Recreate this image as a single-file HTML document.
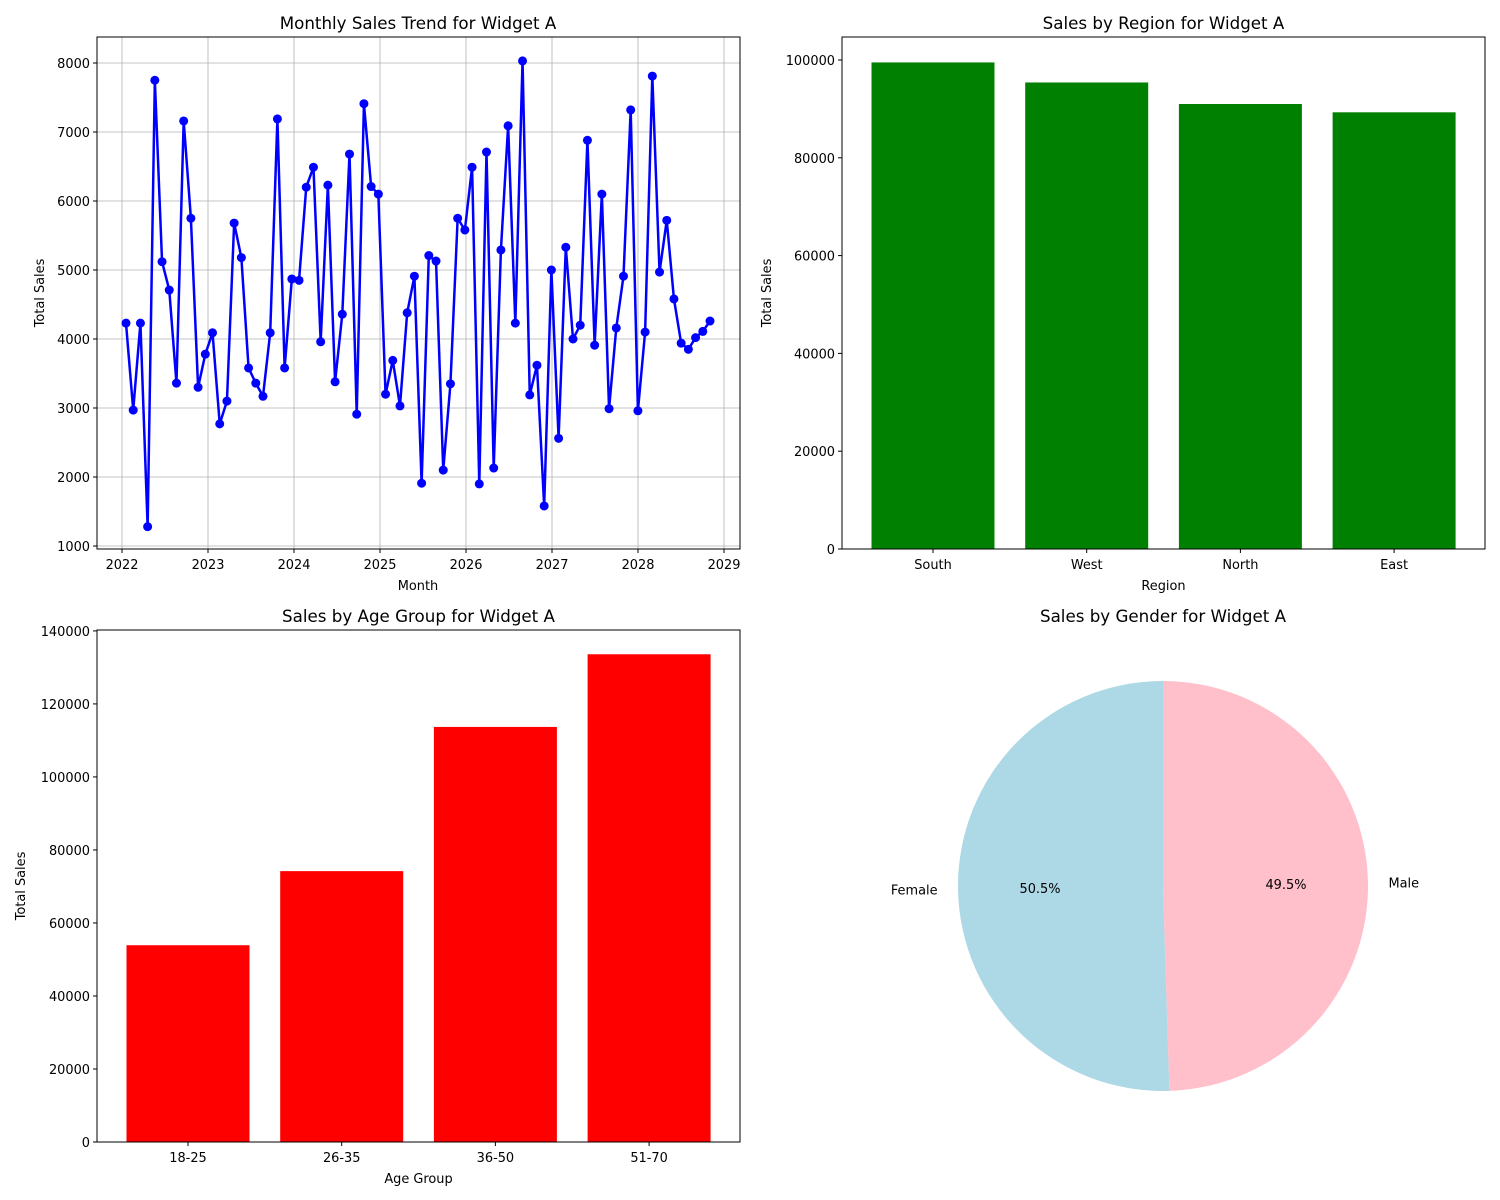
<!DOCTYPE html>
<html><head><meta charset="utf-8"><style>
body{margin:0;background:#fff}
svg{display:block;font-family:"DejaVu Sans","Liberation Sans",sans-serif}
</style></head><body>
<svg id="c" width="1500" height="1200" viewBox="0 0 1500 1200"></svg>
<script>
const monthlySales=[4230,2970,4230,1280,7750,5120,4710,3360,7160,5750,3300,3780,4090,2770,3100,5680,5180,3580,3360,3170,4090,7190,3580,4870,4850,6200,6490,3960,6230,3380,4360,6680,2910,7410,6210,6100,3200,3690,3030,4380,4910,1910,5210,5130,2100,3350,5750,5580,6490,1900,6710,2130,5290,7090,4230,8030,3190,3620,1580,5000,2560,5330,4000,4200,6880,3910,6100,2990,4160,4910,7320,2960,4100,7810,4970,5720,4580,3940,3850,4020,4110,4260];
const yearTicks=[2022,2023,2024,2025,2026,2027,2028,2029];
const salesTicks=[1000,2000,3000,4000,5000,6000,7000,8000];
const regions=["South","West","North","East"];
const regionSales=[99500,95400,91000,89300];
const regionTicks=[0,20000,40000,60000,80000,100000];
const ageGroups=["18-25","26-35","36-50","51-70"];
const ageSales=[53900,74200,113700,133600];
const ageTicks=[0,20000,40000,60000,80000,100000,120000,140000];
const genders=["Female","Male"];
const genderShares=[50.5,49.5];
const genderColors=["#add8e6","#ffc0cb"];

const TS=13.9, TT=16.7;
const svg=document.getElementById('c');const NS="http://www.w3.org/2000/svg";
function mk(t,a,p){const e=document.createElementNS(NS,t);for(const k in a)e.setAttribute(k,a[k]);(p||svg).appendChild(e);return e;}
function txt(x,y,s,size,anchor,p,rot){const e=mk('text',{x:x,y:y,'font-size':size,'text-anchor':anchor||'middle',fill:'#000'},p);if(rot)e.setAttribute('transform','rotate(-90 '+x+' '+y+')');e.textContent=s;return e;}
function frame(){const g=mk('g',{});return g;}
function box(g,x0,y0,x1,y1){mk('rect',{x:x0,y:y0,width:x1-x0,height:y1-y0,fill:'none',stroke:'#000','stroke-width':1},g);}
function yAxis(g,ticks,ys,x0,grid,x1){ticks.forEach(t=>{const y=ys(t);if(grid)mk('line',{x1:x0,x2:x1,y1:y,y2:y,stroke:'#b0b0b0','stroke-width':0.8},g);mk('line',{x1:x0-4,x2:x0,y1:y,y2:y,stroke:'#000'},g);const e=txt(x0-7,y+5,String(t),TS*0.93,'end',g);});}

(function(){const g=frame();
const X0=97,X1=740,Y0=37,Y1=549;
const xs=t=>122+(t-2022)*86;const ys=v=>546-(v-1000)*0.069;
yearTicks.forEach(t=>{const x=xs(t);mk('line',{x1:x,x2:x,y1:Y0,y2:Y1,stroke:'#b0b0b0','stroke-width':0.8},g);mk('line',{x1:x,x2:x,y1:Y1,y2:Y1+4,stroke:'#000'},g);const e=txt(x,Y1+20,String(t),TS*0.93,'middle',g);});
yAxis(g,salesTicks,ys,X0,true,X1);
const xi=i=>126+i*(584/81);
const pts=monthlySales.map((v,i)=>[xi(i),ys(v)]);
const pl=mk('polyline',{points:pts.map(p=>p.join(',')).join(' '),fill:'none',stroke:'#0000ff','stroke-width':2.5},g);

pts.forEach(p=>{const c=mk('circle',{cx:p[0],cy:p[1],r:4.5,fill:'#0000ff'},g);});
box(g,X0,Y0,X1,Y1);
txt(418,29,'Monthly Sales Trend for Widget A',TT,'middle',g);
txt(418,590,'Month',TS*0.93,'middle',g);
txt(44,293,'Total Sales',TS*0.93,'middle',g,true);
})();

function barChart(name,X0,Y0,X1,Y1,cats,vals,ticks,maxV,color,title,xt,c0,step,ytx){
const g=frame();
const ys=v=>Y1-v/maxV*(Y1-Y0);
yAxis(g,ticks,ys,X0,false);
cats.forEach((c,i)=>{const cx=c0+i*step;const r=mk('rect',{x:cx-61.5,y:ys(vals[i]),width:123,height:Y1-ys(vals[i]),fill:color},g);
mk('line',{x1:cx,x2:cx,y1:Y1,y2:Y1+4,stroke:'#000'},g);const e=txt(cx,Y1+20,c,TS*0.93,'middle',g);});
box(g,X0,Y0,X1,Y1);
txt((X0+X1)/2,Y0-8,title,TT,'middle',g);
txt((X0+X1)/2,Y1+41,xt,TS*0.93,'middle',g);
txt(ytx,(Y0+Y1)/2,'Total Sales',TS*0.93,'middle',g,true);
}
barChart('region-chart',842,37,1485,549,regions,regionSales,regionTicks,104700,'#008000','Sales by Region for Widget A','Region',933,153.7,771);
barChart('age-chart',97,630,740,1142,ageGroups,ageSales,ageTicks,140250,'#ff0000','Sales by Age Group for Widget A','Age Group',188,153.7,25);

(function(){const g=frame();
const cx=1163,cy=886,r=205;let a=90;const tot=genderShares.reduce((s,v)=>s+v,0);
genderShares.forEach((v,i)=>{const sw=v/tot*360;const a1=a+sw;const rad=d=>d*Math.PI/180;
const x0=cx+r*Math.cos(rad(a)),y0=cy-r*Math.sin(rad(a)),x1=cx+r*Math.cos(rad(a1)),y1=cy-r*Math.sin(rad(a1));
const p=mk('path',{d:`M${cx},${cy} L${x0},${y0} A${r},${r} 0 ${sw>180?1:0} 0 ${x1},${y1} Z`,fill:genderColors[i]},g);

const m=rad(a+sw/2);const lx=cx+1.1*r*Math.cos(m),ly=cy-1.1*r*Math.sin(m);
const l=txt(lx,ly+5,genders[i],TS*0.93,Math.cos(m)<0?'end':'start',g);
const q=txt(cx+0.6*r*Math.cos(m),cy-0.6*r*Math.sin(m)+5,v.toFixed(1)+'%',TS*0.93,'middle',g);
a=a1;});
txt(1163,622,'Sales by Gender for Widget A',TT,'middle',g);
})();
</script>
</body></html>
